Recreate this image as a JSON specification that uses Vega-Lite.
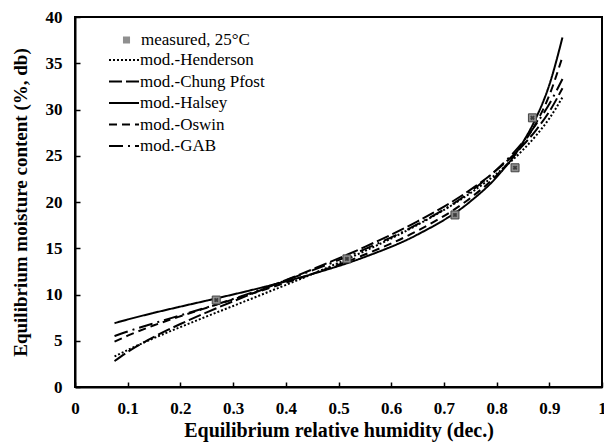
{
  "$schema": "https://vega.github.io/schema/vega-lite/v6.json",
  "width": 527,
  "height": 370,
  "autosize": {"type": "none"},
  "padding": {"left": 75, "top": 17, "right": 2, "bottom": 57},
  "background": "white",
  "config": {
    "view": {"stroke": "black", "strokeWidth": 2},
    "font": "Times New Roman, Liberation Serif, DejaVu Serif, serif",
    "axis": {
      "domainColor": "black", "domainWidth": 2, "tickColor": "black", "tickWidth": 1.5,
      "tickSize": -5, "grid": false, "labelFont": "Times New Roman, Liberation Serif, DejaVu Serif, serif", "labelFontWeight": "bold",
      "labelFontSize": 17, "labelColor": "black", "titleFont": "Times New Roman, Liberation Serif, DejaVu Serif, serif",
      "titleFontWeight": "bold", "titleFontSize": 20, "titleColor": "black"
    },
    "legend": {
      "labelFont": "Times New Roman, Liberation Serif, DejaVu Serif, serif", "labelFontSize": 17, "labelColor": "black",
      "labelFontWeight": "normal"
    }
  },
  "datasets": {
    "curves": [
      {"model": "mod.-Henderson", "rh": 0.075, "emc": 3.30},
      {"model": "mod.-Henderson", "rh": 0.1, "emc": 4.00},
      {"model": "mod.-Henderson", "rh": 0.15, "emc": 5.29},
      {"model": "mod.-Henderson", "rh": 0.2, "emc": 6.48},
      {"model": "mod.-Henderson", "rh": 0.25, "emc": 7.63},
      {"model": "mod.-Henderson", "rh": 0.35, "emc": 9.89},
      {"model": "mod.-Henderson", "rh": 0.45, "emc": 12.21},
      {"model": "mod.-Henderson", "rh": 0.55, "emc": 14.70},
      {"model": "mod.-Henderson", "rh": 0.65, "emc": 17.53},
      {"model": "mod.-Henderson", "rh": 0.75, "emc": 20.95},
      {"model": "mod.-Henderson", "rh": 0.8, "emc": 23.06},
      {"model": "mod.-Henderson", "rh": 0.85, "emc": 25.63},
      {"model": "mod.-Henderson", "rh": 0.875, "emc": 27.19},
      {"model": "mod.-Henderson", "rh": 0.9, "emc": 29.03},
      {"model": "mod.-Henderson", "rh": 0.925, "emc": 31.31},
      {"model": "mod.-Chung Pfost", "rh": 0.075, "emc": 2.80},
      {"model": "mod.-Chung Pfost", "rh": 0.1, "emc": 3.79},
      {"model": "mod.-Chung Pfost", "rh": 0.15, "emc": 5.42},
      {"model": "mod.-Chung Pfost", "rh": 0.2, "emc": 6.81},
      {"model": "mod.-Chung Pfost", "rh": 0.25, "emc": 8.07},
      {"model": "mod.-Chung Pfost", "rh": 0.35, "emc": 10.41},
      {"model": "mod.-Chung Pfost", "rh": 0.45, "emc": 12.71},
      {"model": "mod.-Chung Pfost", "rh": 0.55, "emc": 15.15},
      {"model": "mod.-Chung Pfost", "rh": 0.65, "emc": 17.91},
      {"model": "mod.-Chung Pfost", "rh": 0.75, "emc": 21.31},
      {"model": "mod.-Chung Pfost", "rh": 0.8, "emc": 23.45},
      {"model": "mod.-Chung Pfost", "rh": 0.85, "emc": 26.12},
      {"model": "mod.-Chung Pfost", "rh": 0.875, "emc": 27.78},
      {"model": "mod.-Chung Pfost", "rh": 0.9, "emc": 29.77},
      {"model": "mod.-Chung Pfost", "rh": 0.925, "emc": 32.30},
      {"model": "mod.-Halsey", "rh": 0.075, "emc": 6.90},
      {"model": "mod.-Halsey", "rh": 0.1, "emc": 7.30},
      {"model": "mod.-Halsey", "rh": 0.15, "emc": 8.02},
      {"model": "mod.-Halsey", "rh": 0.2, "emc": 8.69},
      {"model": "mod.-Halsey", "rh": 0.25, "emc": 9.34},
      {"model": "mod.-Halsey", "rh": 0.35, "emc": 10.69},
      {"model": "mod.-Halsey", "rh": 0.45, "emc": 12.21},
      {"model": "mod.-Halsey", "rh": 0.55, "emc": 14.06},
      {"model": "mod.-Halsey", "rh": 0.65, "emc": 16.48},
      {"model": "mod.-Halsey", "rh": 0.75, "emc": 20.05},
      {"model": "mod.-Halsey", "rh": 0.8, "emc": 22.69},
      {"model": "mod.-Halsey", "rh": 0.85, "emc": 26.46},
      {"model": "mod.-Halsey", "rh": 0.875, "emc": 29.11},
      {"model": "mod.-Halsey", "rh": 0.9, "emc": 32.65},
      {"model": "mod.-Halsey", "rh": 0.925, "emc": 37.79},
      {"model": "mod.-Oswin", "rh": 0.075, "emc": 4.90},
      {"model": "mod.-Oswin", "rh": 0.1, "emc": 5.55},
      {"model": "mod.-Oswin", "rh": 0.15, "emc": 6.67},
      {"model": "mod.-Oswin", "rh": 0.2, "emc": 7.65},
      {"model": "mod.-Oswin", "rh": 0.25, "emc": 8.57},
      {"model": "mod.-Oswin", "rh": 0.35, "emc": 10.36},
      {"model": "mod.-Oswin", "rh": 0.45, "emc": 12.22},
      {"model": "mod.-Oswin", "rh": 0.55, "emc": 14.32},
      {"model": "mod.-Oswin", "rh": 0.65, "emc": 16.90},
      {"model": "mod.-Oswin", "rh": 0.75, "emc": 20.42},
      {"model": "mod.-Oswin", "rh": 0.8, "emc": 22.88},
      {"model": "mod.-Oswin", "rh": 0.85, "emc": 26.26},
      {"model": "mod.-Oswin", "rh": 0.875, "emc": 28.54},
      {"model": "mod.-Oswin", "rh": 0.9, "emc": 31.53},
      {"model": "mod.-Oswin", "rh": 0.925, "emc": 35.71},
      {"model": "mod.-GAB", "rh": 0.075, "emc": 5.5},
      {"model": "mod.-GAB", "rh": 0.1, "emc": 6.0},
      {"model": "mod.-GAB", "rh": 0.15, "emc": 6.9},
      {"model": "mod.-GAB", "rh": 0.2, "emc": 7.75},
      {"model": "mod.-GAB", "rh": 0.25, "emc": 8.6},
      {"model": "mod.-GAB", "rh": 0.35, "emc": 10.5},
      {"model": "mod.-GAB", "rh": 0.45, "emc": 12.6},
      {"model": "mod.-GAB", "rh": 0.55, "emc": 14.9},
      {"model": "mod.-GAB", "rh": 0.65, "emc": 17.6},
      {"model": "mod.-GAB", "rh": 0.75, "emc": 21.1},
      {"model": "mod.-GAB", "rh": 0.8, "emc": 23.5},
      {"model": "mod.-GAB", "rh": 0.85, "emc": 26.5},
      {"model": "mod.-GAB", "rh": 0.875, "emc": 28.4},
      {"model": "mod.-GAB", "rh": 0.9, "emc": 30.6},
      {"model": "mod.-GAB", "rh": 0.925, "emc": 33.3}
    ],
    "measured": [
      {"series": "measured, 25°C", "rh": 0.268, "emc": 9.4},
      {"series": "measured, 25°C", "rh": 0.516, "emc": 13.85},
      {"series": "measured, 25°C", "rh": 0.721, "emc": 18.6},
      {"series": "measured, 25°C", "rh": 0.835, "emc": 23.7},
      {"series": "measured, 25°C", "rh": 0.868, "emc": 29.1}
    ]
  },
  "encoding": {
    "x": {
      "field": "rh", "type": "quantitative",
      "scale": {"domain": [0, 1], "nice": false},
      "axis": {"title": "Equilibrium relative humidity (dec.)", "values": [0, 0.1, 0.2, 0.3, 0.4, 0.5, 0.6, 0.7, 0.8, 0.9, 1], "labelExpr": "datum.value == 0 ? '0' : datum.value == 1 ? '1' : format(datum.value, '.1f')", "labelPadding": 18, "titlePadding": 4, "labelFlush": false}
    },
    "y": {
      "field": "emc", "type": "quantitative",
      "scale": {"domain": [0, 40], "nice": false},
      "axis": {"title": "Equilibrium moisture content (%, db)", "titleFontSize": 19, "values": [0, 5, 10, 15, 20, 25, 30, 35, 40], "labelPadding": 18, "titlePadding": 15, "labelFlush": false}
    }
  },
  "layer": [
    {
      "data": {"name": "curves"},
      "mark": {"type": "line", "color": "black", "strokeWidth": 2, "interpolate": "monotone"},
      "encoding": {
        "detail": {"field": "model"},
        "strokeDash": {
          "field": "model", "type": "nominal",
          "scale": {
            "domain": ["mod.-Henderson", "mod.-Chung Pfost", "mod.-Halsey", "mod.-Oswin", "mod.-GAB"],
            "range": [[2, 2], [13, 4], [1, 0], [8, 5], [14, 5, 2, 5]]
          },
          "legend": {
            "title": null, "orient": "none", "legendX": 33, "legendY": 35,
            "symbolType": "stroke", "symbolSize": 900, "symbolStrokeWidth": 2,
            "symbolStrokeColor": "black", "labelOffset": 0, "clipHeight": 16, "rowPadding": 4.5, "padding": 0
          }
        }
      }
    },
    {
      "data": {"name": "measured"},
      "mark": {"type": "point", "shape": "square", "filled": true, "size": 64, "fill": "#8f8f8f", "stroke": "#444", "strokeWidth": 1, "opacity": 1},
      "encoding": {
        "shape": {
          "field": "series", "type": "nominal",
          "scale": {"range": ["square"]},
          "legend": {
            "title": null, "orient": "none", "legendX": 43, "legendY": 15,
            "symbolSize": 50, "symbolFillColor": "#8f8f8f", "symbolStrokeColor": "#444", "symbolStrokeWidth": 1,
            "labelOffset": 6, "clipHeight": 16, "padding": 0
          }
        }
      }
    },
    {
      "data": {"name": "measured"},
      "mark": {"type": "point", "shape": "cross", "filled": true, "size": 22, "angle": 45, "fill": "#333", "opacity": 0.9},
      "encoding": {}
    }
  ]
}
